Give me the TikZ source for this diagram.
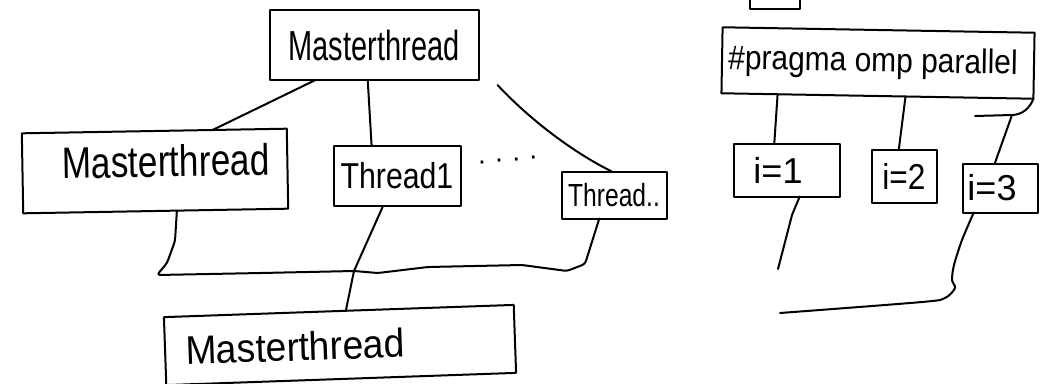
\documentclass[tikz,border=0pt]{standalone}
\usepackage{fontspec}
\setmainfont{Liberation Sans}
\usepackage{graphicx}
\usetikzlibrary{calc}
\newcommand\handtxt[3]{{\fontsize{#1}{#1}\selectfont\scalebox{#2}[1]{#3}}}
\begin{document}
\begin{tikzpicture}[x=1pt,y=-1pt,
  pen/.style={line width=2pt, line cap=round, line join=round, draw=black},
  box/.style={pen, rectangle, inner sep=0pt, outer sep=0pt},
]
\path[use as bounding box, fill=white] (0,0) rectangle (1043,383);

% nodes (boxes)
\node[box, minimum width=209pt, minimum height=70pt] (mt1) at (374,45) {\handtxt{42}{0.69}{Masterthread}};
\node[box, minimum width=265pt, minimum height=80pt, rotate=1, text depth=20pt] (mt2) at (155,171) {\hspace*{22pt}\handtxt{44}{0.8}{Masterthread}};
\node[box, minimum width=127pt, minimum height=60pt] (t1) at (397,176) {\handtxt{36}{0.84}{Thread1}};
\node[box, minimum width=105pt, minimum height=47pt] (tn) at (614,195) {\handtxt{32}{0.77}{Thread..}};
\node[box, minimum width=350pt, minimum height=68pt, rotate=2] (mt3) at (340,345) {\handtxt{40}{0.93}{Masterthread}\hspace*{90pt}};
\node[rotate=5, inner sep=0pt] (dots) at (508,163) {\handtxt{28}{1}{· · · ·}};

\node[box, minimum width=50pt, minimum height=29pt] (prev) at (775,-5.5) {};
\node[box, minimum width=312pt, minimum height=66pt, rotate=-1] (pragma) at (878,63) {\handtxt{34}{0.88}{\#pragma omp parallel}\hspace*{10pt}};
\node[box, minimum width=106pt, minimum height=53pt] (i1) at (787,170) {\handtxt{36}{1}{i=1}\hspace*{18pt}};
\node[box, minimum width=65pt, minimum height=53pt] (i2) at (904,176) {\handtxt{36}{0.88}{i=2}};
\node[box, minimum width=75pt, minimum height=49pt] (i3) at (1000,188) {\handtxt{36}{1}{i=3}\hspace*{16pt}};

% helper coordinates
\coordinate (j) at (354,271);
\coordinate (bend) at (1012,115);
\coordinate (stub) at (975,116);
\coordinate (e1) at (778,269);
\coordinate (e2) at (780,313);
\coordinate (i3s) at ($(i3.south west)!0.15!(i3.south east)$);

% left diagram connectors
\draw[pen] ($(mt1.south west)!0.22!(mt1.south east)$) -- ($(mt2.north west)!0.72!(mt2.north east)$);
\draw[pen] ($(mt1.south west)!0.47!(mt1.south east)$) -- ($(t1.north west)!0.3!(t1.north east)$);
\draw[pen] ($(mt1.south east)+(19,5)$) .. controls (535,125) and (580,156) .. ($(tn.north west)!0.48!(tn.north east)$);
\draw[pen, rounded corners=3pt] ($(mt2.south west)!0.58!(mt2.south east)$) -- (175,241) -- (167,263) -- (157,275)
  -- (261,273) -- (j) -- (378,273) -- (428,267) -- (522,265) -- (567,271) -- (585,264)
  -- ($(tn.south west)!0.36!(tn.south east)$);
\draw[pen] ($(t1.south west)!0.39!(t1.south east)$) -- (j) -- ($(mt3.north west)!0.52!(mt3.north east)$);

% right diagram connectors
\draw[pen] ($(pragma.south west)!0.18!(pragma.south east)$) -- ($(i1.north west)!0.38!(i1.north east)$);
\draw[pen] ($(pragma.south west)!0.59!(pragma.south east)$) -- ($(i2.north west)!0.42!(i2.north east)$);
\draw[pen] (pragma.south east) .. controls (1030,108) and (1022,115) .. (bend) -- (stub);
\draw[pen] (bend) -- ($(i3.north west)!0.43!(i3.north east)$);
\draw[pen] ($(i1.south west)!0.62!(i1.south east)$) -- (792,215) -- (e1);
\draw[pen] plot[smooth, tension=0.5] coordinates {(i3s) (962,240) (954,265) (952,280) (955,288) (945,298) (922,302) (e2)};
\end{tikzpicture}
\end{document}
